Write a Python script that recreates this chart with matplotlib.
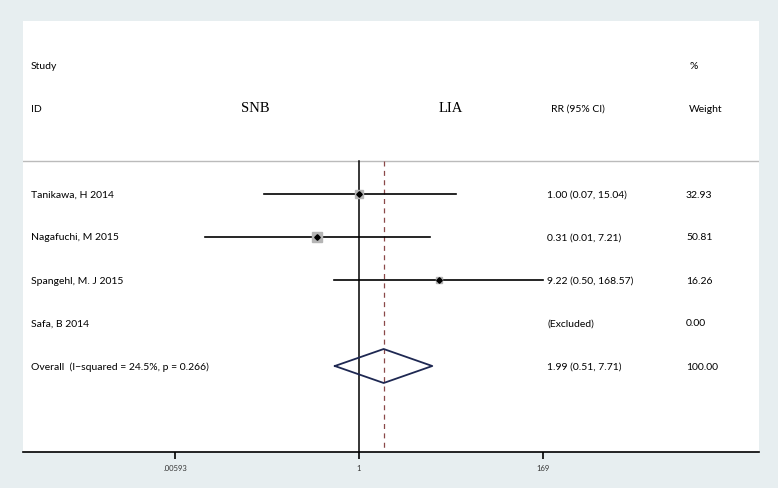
import numpy as np
import matplotlib
matplotlib.use("Agg")
import matplotlib.pyplot as plt
import matplotlib.transforms as mtransforms

# data
studies = ["Tanikawa, H 2014", "Nagafuchi, M 2015", "Spangehl, M. J 2015", "Safa, B 2014"]
rr = [1.00, 0.31, 9.22, np.nan]
ci_low = [0.07, 0.0135, 0.50, np.nan]
ci_high = [15.04, 7.21, 168.57, np.nan]
weights = [32.93, 50.81, 16.26, 0.00]
rr_labels = ["1.00 (0.07, 15.04)", "0.31 (0.01, 7.21)", "9.22 (0.50, 168.57)", "(Excluded)"]
weight_labels = ["32.93", "50.81", "16.26", "0.00"]

overall_label = "Overall  (I\u2212squared = 24.5%, p = 0.266)"
overall_rr = 1.99
overall_low = 0.51
overall_high = 7.71
overall_rr_label = "1.99 (0.51, 7.71)"
overall_weight_label = "100.00"

tick_vals = [0.00593, 1, 169]
tick_labels = [".00593", "1", "169"]

plt.rcParams["font.family"] = ["Lato", "DejaVu Sans"]

W, H = 778, 489
fig = plt.figure(figsize=(W / 100, H / 100), dpi=100)
fig.patch.set_facecolor("#e7eef0")

left, right, top, bottom = 23, 759, 22, 453
ax = fig.add_axes([left / W, 1 - bottom / H, (right - left) / W, (bottom - top) / H])
ax.set_facecolor("white")

# log x scale: 1 at px 359, 169 at px 543
px_per_ln = (543 - 359) / np.log(169)
ax.set_xscale("log")
ax.set_xlim(np.exp((left - 359) / px_per_ln), np.exp((right - 359) / px_per_ln))
row_step = 43
ax.set_ylim((bottom - 195) / row_step, (top - 195) / row_step)

for s in ["top", "left", "right"]:
    ax.spines[s].set_visible(False)
ax.spines["bottom"].set_linewidth(1.2)
ax.set_yticks([])
ax.set_xticks(tick_vals)
ax.set_xticklabels(tick_labels, fontsize=5.5, color="#333333")
ax.xaxis.set_minor_locator(plt.NullLocator())
ax.tick_params(axis="x", length=5, width=1.2, direction="out", pad=4)

sep_y = (162 - 195) / row_step
ymax = (bottom - 195) / row_step
ax.axhline(sep_y, color="#bbbbbb", lw=1)
ax.plot([1, 1], [sep_y, ymax], color="black", lw=1.1)
ax.plot([overall_rr, overall_rr], [sep_y, ymax], color="#8a4848", lw=0.9,
        dashes=(4, 3.5))

# studies
for i in range(len(studies)):
    if np.isnan(rr[i]):
        continue
    ax.plot([ci_low[i], ci_high[i]], [i, i], color="black", lw=1.2, zorder=3)
    ax.plot(rr[i], i, marker="s", ms=np.sqrt(weights[i]) * 1.05, color="#b5b5b5",
            mec="#b5b5b5", zorder=4)
    ax.plot(rr[i], i, marker="D", ms=2.8, color="black", zorder=5)

# overall diamond
oy = len(studies)
dh = 17 / row_step
ax.plot([overall_low, overall_rr, overall_high, overall_rr, overall_low],
        [oy, oy - dh, oy, oy + dh, oy], color="#1e2852", lw=1.3, zorder=5)

# text columns
tr = mtransforms.blended_transform_factory(fig.transFigure, ax.transData)
fs = 7.5
col_study = 31 / W
col_rr = 547 / W
col_w = 686 / W

ax.text(col_study, -3, "Study", transform=tr, fontsize=fs, va="center")
ax.text(col_study, -2, "ID", transform=tr, fontsize=fs, va="center")
ax.text(255 / W, -2, "SNB", transform=tr, fontsize=10.5, va="center", ha="center",
        family="Liberation Serif")
ax.text(451 / W, -2, "LIA", transform=tr, fontsize=10.5, va="center", ha="center",
        family="Liberation Serif")
ax.text(551 / W, -2, "RR (95% CI)", transform=tr, fontsize=fs, va="center")
ax.text(690 / W, -3, "%", transform=tr, fontsize=fs, va="center")
ax.text(689 / W, -2, "Weight", transform=tr, fontsize=fs, va="center")

for i, name in enumerate(studies):
    ax.text(col_study, i, name, transform=tr, fontsize=fs, va="center")
    ax.text(col_rr, i, rr_labels[i], transform=tr, fontsize=fs, va="center")
    ax.text(col_w, i, weight_labels[i], transform=tr, fontsize=fs, va="center")

ax.text(col_study, oy, overall_label, transform=tr, fontsize=fs, va="center")
ax.text(col_rr, oy, overall_rr_label, transform=tr, fontsize=fs, va="center")
ax.text(col_w, oy, overall_weight_label, transform=tr, fontsize=fs, va="center")

fig.savefig("out.png", dpi=100, facecolor=fig.get_facecolor())
